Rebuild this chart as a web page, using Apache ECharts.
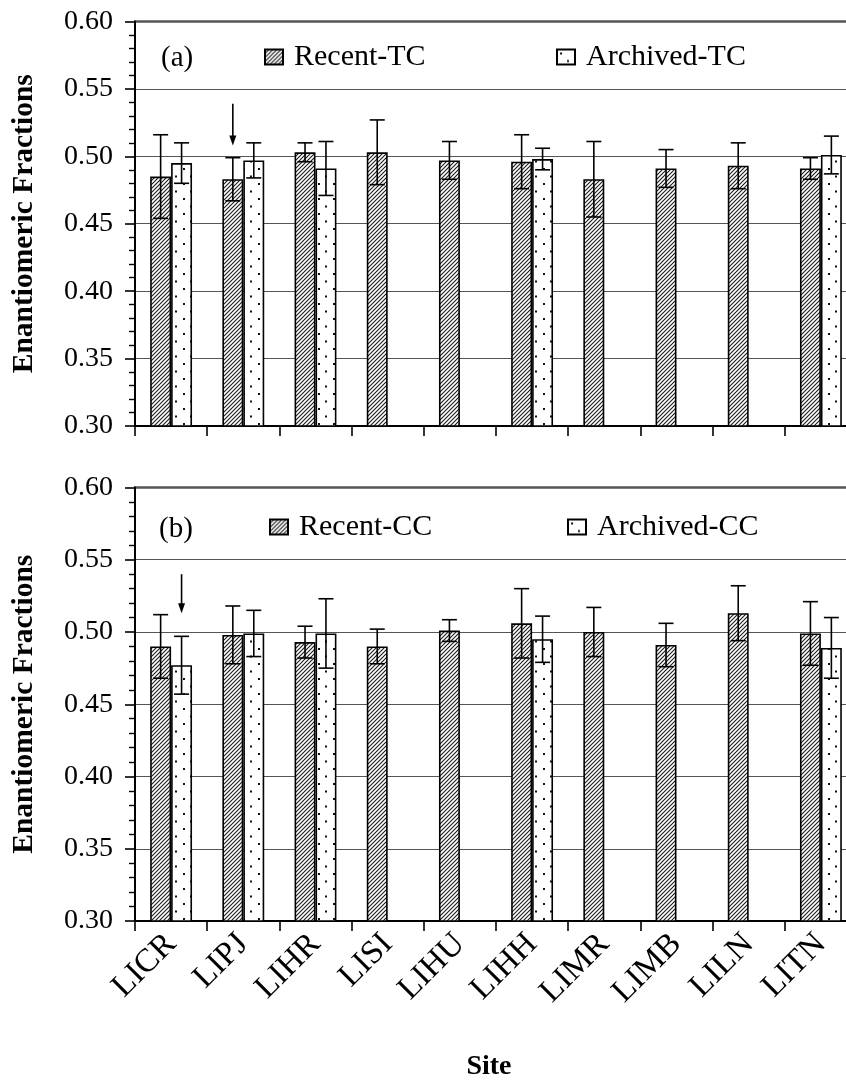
<!DOCTYPE html>
<html>
<head>
<meta charset="utf-8">
<script src="https://cdn.jsdelivr.net/npm/echarts@6/dist/echarts.min.js"></script>
<style>
  html, body { margin: 0; padding: 0; background: #fff; overflow: hidden; }
  /* the plot runs slightly past the right edge of the page, as in the printed figure */
  #chart { width: 870px; height: 1082px; }
</style>
</head>
<body>
<div id="chart"></div>
<script>
// Sampling sites (category axis, shared by both panels)
const sites = ['LICR', 'LIPJ', 'LIHR', 'LISI', 'LIHU', 'LIHH', 'LIMR', 'LIMB', 'LILN', 'LITN'];

// Value axis range for both panels
const yMin = 0.30;
const yMax = 0.60;
const yStep = 0.05;

// Panel (a): trans-chlordane
const recentTC     = [0.485, 0.483, 0.503, 0.503, 0.497, 0.496, 0.483, 0.491, 0.493, 0.491];
const recentTCErr  = [0.031, 0.016, 0.007, 0.024, 0.014, 0.020, 0.028, 0.014, 0.017, 0.008];
const archivedTC    = [0.495, 0.497, 0.491, null, null, 0.498, null, null, null, 0.501];
const archivedTCErr = [0.015, 0.013, 0.020, null, null, 0.008, null, null, null, 0.014];

// Panel (b): cis-chlordane
const recentCC     = [0.490, 0.498, 0.493, 0.490, 0.501, 0.506, 0.500, 0.491, 0.513, 0.499];
const recentCCErr  = [0.022, 0.020, 0.011, 0.012, 0.0075, 0.024, 0.017, 0.015, 0.019, 0.022];
const archivedCC    = [0.477, 0.499, 0.499, null, null, 0.495, null, null, null, 0.489];
const archivedCCErr = [0.020, 0.016, 0.024, null, null, 0.016, null, null, null, 0.021];

// Arrows: [site, bar slot (0 = recent, 1 = archived), value at tail, value at head]
const arrowsTC = [['LIPJ', 0, 0.539, 0.508]];
const arrowsCC = [['LICR', 1, 0.540, 0.513]];

const FONT = "'Liberation Serif', 'Times New Roman', serif";
const CAT_GAP = 0.42;               // fraction of each band left empty
const BAR_FRAC = (1 - CAT_GAP) / 2; // width of one bar as a fraction of the band

// Fill patterns
function hatchPattern() {
  const s = 4;
  const c = document.createElement('canvas');
  c.width = s; c.height = s;
  const g = c.getContext('2d');
  g.fillStyle = '#fff';
  g.fillRect(0, 0, s, s);
  g.strokeStyle = '#1a1a1a';
  g.lineWidth = 1.1;
  g.beginPath();
  g.moveTo(-1, s + 1); g.lineTo(s + 1, -1);
  g.moveTo(-1, 1); g.lineTo(1, -1);
  g.moveTo(s - 1, s + 1); g.lineTo(s + 1, s - 1);
  g.stroke();
  return { image: c, repeat: 'repeat' };
}
function dotPattern() {
  const w = 15, h = 15;
  const c = document.createElement('canvas');
  c.width = w; c.height = h;
  const g = c.getContext('2d');
  g.fillStyle = '#fff';
  g.fillRect(0, 0, w, h);
  g.fillStyle = '#111';
  g.fillRect(3, 3, 2, 2);
  g.fillRect(10, 10.5, 2, 2);
  return { image: c, repeat: 'repeat' };
}
const HATCH = hatchPattern();
const DOTS = dotPattern();

function slotOffset(slot, band) {
  return (slot === 0 ? -1 : 1) * band * BAR_FRAC / 2;
}

function errorData(values, errs) {
  const out = [];
  values.forEach((v, i) => { if (v != null && errs[i] != null) out.push([i, v, errs[i]]); });
  return out;
}

function errorSeries(values, errs, slot, gi) {
  return {
    type: 'custom',
    xAxisIndex: gi, yAxisIndex: gi,
    z: 5,
    silent: true,
    data: errorData(values, errs),
    renderItem: function (params, api) {
      const i = api.value(0), v = api.value(1), e = api.value(2);
      const band = api.size([1, 0])[0];
      const hi = api.coord([i, v + e]);
      const lo = api.coord([i, v - e]);
      const x = hi[0] + slotOffset(slot, band);
      const cap = 7.5;
      const st = { stroke: '#000', lineWidth: 1.6 };
      return {
        type: 'group',
        children: [
          { type: 'line', shape: { x1: x, y1: hi[1], x2: x, y2: lo[1] }, style: st },
          { type: 'line', shape: { x1: x - cap, y1: hi[1], x2: x + cap, y2: hi[1] }, style: st },
          { type: 'line', shape: { x1: x - cap, y1: lo[1], x2: x + cap, y2: lo[1] }, style: st }
        ]
      };
    }
  };
}

function arrowSeries(arrows, gi) {
  return {
    type: 'custom',
    xAxisIndex: gi, yAxisIndex: gi,
    z: 6,
    silent: true,
    data: arrows.map(a => [sites.indexOf(a[0]), a[1], a[2], a[3]]),
    renderItem: function (params, api) {
      const i = api.value(0), slot = api.value(1);
      const band = api.size([1, 0])[0];
      const p0 = api.coord([i, api.value(2)]);
      const p1 = api.coord([i, api.value(3)]);
      const x = p0[0] + slotOffset(slot, band);
      const hw = 3.5, hl = 10;
      return {
        type: 'group',
        children: [
          { type: 'line', shape: { x1: x, y1: p0[1], x2: x, y2: p1[1] - hl + 1 },
            style: { stroke: '#000', lineWidth: 1.6 } },
          { type: 'polygon', shape: { points: [[x - hw, p1[1] - hl], [x + hw, p1[1] - hl], [x, p1[1]]] },
            style: { fill: '#000' } }
        ]
      };
    }
  };
}

function barSeries(name, values, pattern, gi) {
  return {
    name: name,
    type: 'bar',
    xAxisIndex: gi, yAxisIndex: gi,
    barGap: '0%',
    barCategoryGap: (CAT_GAP * 100) + '%',
    data: values.map(v => (v == null ? '-' : v)),
    itemStyle: { color: pattern, borderColor: '#000', borderWidth: 1.6 },
    emphasis: { disabled: true },
    z: 3
  };
}

const grids = [
  { left: 135, width: 722, top: 21.5, height: 404.5 },
  { left: 135, width: 722, top: 487.5, height: 437.5 }
].map(g => Object.assign(g, { show: true, borderColor: '#000', borderWidth: 2, backgroundColor: 'transparent' }));

function xAxis(gi, withLabels) {
  return {
    type: 'category',
    gridIndex: gi,
    data: sites,
    axisLine: { lineStyle: { color: '#000', width: 2 } },
    axisTick: { show: true, length: 10, lineStyle: { color: '#000', width: 1.6 } },
    axisLabel: withLabels
      ? { show: true, rotate: 45, margin: 18, color: '#000', fontFamily: FONT, fontSize: 33, interval: 0 }
      : { show: false },
    name: withLabels ? 'Site' : '',
    nameLocation: 'middle',
    nameGap: 132,
    nameTextStyle: { fontFamily: FONT, fontSize: 28, fontWeight: 'bold', color: '#000',
                     padding: [0, 14, 0, 0] }
  };
}

function yAxis(gi) {
  return {
    type: 'value',
    gridIndex: gi,
    min: yMin, max: yMax, interval: yStep,
    name: 'Enantiomeric Fractions',
    nameLocation: 'middle',
    nameGap: 96,
    nameTextStyle: { fontFamily: FONT, fontSize: 29.5, fontWeight: 'bold', color: '#000' },
    axisLine: { show: true, lineStyle: { color: '#000', width: 2 } },
    axisTick: { show: true, length: 10, lineStyle: { color: '#000', width: 1.6 } },
    minorTick: { show: true, splitNumber: 5, length: 6, lineStyle: { color: '#000', width: 1.4 } },
    axisLabel: { color: '#000', fontFamily: FONT, fontSize: 28, margin: 22,
                 formatter: v => v.toFixed(2) },
    splitLine: { show: true, lineStyle: { color: '#555', width: 1 } }
  };
}

function legend(name, left, top) {
  return {
    data: [name],
    left: left, top: top,
    padding: 0,
    icon: 'rect',
    itemWidth: 18, itemHeight: 15,
    selectedMode: false,
    textStyle: { fontFamily: FONT, fontSize: 30, color: '#000', padding: [0, 0, 0, 6] }
  };
}

const option = {
  animation: false,
  backgroundColor: '#fff',
  title: [
    { text: '(a)', left: 156, top: 39, textStyle: { fontFamily: FONT, fontSize: 29, fontWeight: 'normal', color: '#000' } },
    { text: '(b)', left: 154, top: 510, textStyle: { fontFamily: FONT, fontSize: 29, fontWeight: 'normal', color: '#000' } }
  ],
  legend: [
    legend('Recent-TC', 264, 42),
    legend('Archived-TC', 556, 42),
    legend('Recent-CC', 269, 512),
    legend('Archived-CC', 567, 512)
  ],
  grid: grids,
  xAxis: [xAxis(0, false), xAxis(1, true)],
  yAxis: [yAxis(0), yAxis(1)],
  series: [
    barSeries('Recent-TC', recentTC, HATCH, 0),
    barSeries('Archived-TC', archivedTC, DOTS, 0),
    errorSeries(recentTC, recentTCErr, 0, 0),
    errorSeries(archivedTC, archivedTCErr, 1, 0),
    arrowSeries(arrowsTC, 0),
    barSeries('Recent-CC', recentCC, HATCH, 1),
    barSeries('Archived-CC', archivedCC, DOTS, 1),
    errorSeries(recentCC, recentCCErr, 0, 1),
    errorSeries(archivedCC, archivedCCErr, 1, 1),
    arrowSeries(arrowsCC, 1)
  ]
};

const chart = echarts.init(document.getElementById('chart'), null, { renderer: 'canvas' });
chart.setOption(option);
</script>
</body>
</html>
